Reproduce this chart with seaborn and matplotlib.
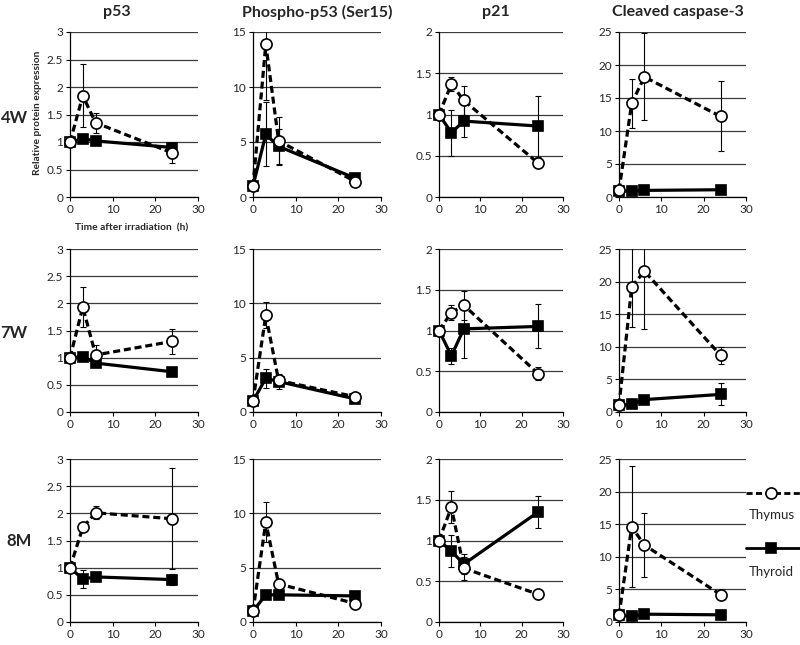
import pandas as pd
import matplotlib
matplotlib.use("Agg")
import matplotlib.pyplot as plt
from matplotlib.lines import Line2D
from matplotlib.ticker import FuncFormatter, MultipleLocator
import seaborn as sns

times = [0, 3, 6, 24]
ages = ["4W", "7W", "8M"]
proteins = ["p53", "Phospho-p53 (Ser15)", "p21", "Cleaved caspase-3"]
tissues = ["Thyroid", "Thymus"]

# each list: rows 4W, 7W, 8M ; values at 0, 3, 6, 24 h
p53_thymus = [[1.0, 1.84, 1.35, 0.80], [1.0, 1.93, 1.05, 1.30], [1.0, 1.74, 2.01, 1.90]]
p53_thymus_sd = [[0, 0.57, 0.18, 0.18], [0, 0.37, 0.19, 0.23], [0, 0.05, 0.12, 0.93]]
p53_thyroid = [[1.0, 1.06, 1.02, 0.90], [1.0, 1.02, 0.90, 0.74], [1.0, 0.79, 0.83, 0.78]]
p53_thyroid_sd = [[0, 0.04, 0.04, 0.06], [0, 0.03, 0.04, 0.03], [0, 0.17, 0.05, 0.10]]

pp53_thymus = [[1.0, 13.9, 5.1, 1.4], [1.0, 8.9, 2.9, 1.4], [1.0, 9.2, 3.5, 1.7]]
pp53_thymus_sd = [[0, 5.1, 2.2, 0.2], [0, 1.2, 0.5, 0.2], [0, 1.8, 0.3, 0.2]]
pp53_thyroid = [[1.0, 5.7, 4.6, 1.7], [1.0, 3.1, 2.8, 1.2], [1.0, 2.5, 2.5, 2.4]]
pp53_thyroid_sd = [[0, 2.9, 1.6, 0.2], [0, 0.9, 0.7, 0.2], [0, 0.2, 0.3, 0.2]]

p21_thymus = [[1.0, 1.37, 1.17, 0.41], [1.0, 1.22, 1.31, 0.47], [1.0, 1.41, 0.66, 0.34]]
p21_thymus_sd = [[0, 0.09, 0.18, 0.02], [0, 0.09, 0.18, 0.08], [0, 0.20, 0.14, 0.02]]
p21_thyroid = [[1.0, 0.78, 0.92, 0.86], [1.0, 0.69, 1.02, 1.05], [1.0, 0.87, 0.71, 1.35]]
p21_thyroid_sd = [[0, 0.28, 0.19, 0.37], [0, 0.10, 0.36, 0.27], [0, 0.20, 0.12, 0.20]]

casp_thymus = [[1.0, 14.2, 18.2, 12.2], [1.0, 19.2, 21.6, 8.7], [1.0, 14.6, 11.8, 4.2]]
casp_thymus_sd = [[0, 3.7, 6.6, 5.3], [0, 6.1, 8.9, 1.3], [0, 9.3, 4.9, 0.2]]
casp_thyroid = [[0.9, 0.9, 1.0, 1.1], [1.0, 1.2, 1.9, 2.7], [1.0, 0.9, 1.2, 1.1]]
casp_thyroid_sd = [[0, 0.1, 0.1, 0.1], [0, 0.2, 0.3, 1.7], [0, 0.1, 0.1, 0.1]]

ymax = [3, 15, 2, 25]
ystep = [0.5, 5, 0.5, 5]

means = {"Thymus": [p53_thymus, pp53_thymus, p21_thymus, casp_thymus],
         "Thyroid": [p53_thyroid, pp53_thyroid, p21_thyroid, casp_thyroid]}
sds = {"Thymus": [p53_thymus_sd, pp53_thymus_sd, p21_thymus_sd, casp_thymus_sd],
       "Thyroid": [p53_thyroid_sd, pp53_thyroid_sd, p21_thyroid_sd, casp_thyroid_sd]}

rows = []
for tissue in tissues:
    for c, prot in enumerate(proteins):
        for r, age in enumerate(ages):
            for t, m, s in zip(times, means[tissue][c][r], sds[tissue][c][r]):
                rows.append(dict(tissue=tissue, protein=prot, age=age, time=t, value=m, sd=s))
df = pd.DataFrame(rows)

sns.set_style("white")
plt.rcParams["font.family"] = ["Lato", "DejaVu Sans"]

W, H = 800, 645
fig = plt.figure(figsize=(8, 6.45), dpi=100)

col_left = [70, 253, 439, 619]
col_w = [128, 128, 124, 127]
row_top = [32, 249, 459]
row_h = [165, 163, 163]

styles = {
    "Thymus": dict(linestyle=(0, (2.2, 1.2)), marker="o", markersize=8,
                   markerfacecolor="white", zorder=5),
    "Thyroid": dict(linestyle="-", marker="s", markersize=7,
                    markerfacecolor="black", zorder=3),
}

for r, age in enumerate(ages):
    for c, prot in enumerate(proteins):
        ax = fig.add_axes([col_left[c] / W, 1 - (row_top[r] + row_h[r]) / H,
                           col_w[c] / W, row_h[r] / H])
        for tissue in tissues:
            sub = df[(df.tissue == tissue) & (df.protein == prot) & (df.age == age)]
            z = styles[tissue]["zorder"]
            ax.errorbar(sub.time, sub.value, yerr=sub.sd, fmt="none", ecolor="black",
                        elinewidth=0.8, capsize=2.5, capthick=0.8, zorder=z - 1)
            sns.lineplot(data=sub, x="time", y="value", ax=ax, color="black",
                         linewidth=2.3, markeredgecolor="black", markeredgewidth=1.2,
                         errorbar=None, clip_on=False, **styles[tissue])
        ax.set_xlim(0, 30)
        ax.set_ylim(0, ymax[c])
        ax.xaxis.set_major_locator(MultipleLocator(10))
        ax.yaxis.set_major_locator(MultipleLocator(ystep[c]))
        ax.yaxis.set_major_formatter(FuncFormatter(lambda v, p: f"{v:g}"))
        ax.grid(axis="y", color="#3c3c3c", linewidth=0.9)
        ax.set_axisbelow(True)
        for s in ["top", "right"]:
            ax.spines[s].set_visible(False)
        for s in ["left", "bottom"]:
            ax.spines[s].set_color("black")
            ax.spines[s].set_linewidth(0.9)
        ax.tick_params(direction="out", length=3, width=0.8, color="black",
                       labelsize=8.5, pad=2, left=True, bottom=True)
        ax.set_xlabel("")
        ax.set_ylabel("")

# column titles and row labels
title_x = [117, 317, 496, 678]
for prot, x in zip(proteins, title_x):
    fig.text(x / W, 1 - 12 / H, prot, ha="center", va="center",
             fontsize=11.5, fontweight="bold")
for age, (x, y) in zip(ages, [(15, 118), (14, 333), (19, 541)]):
    fig.text(x / W, 1 - y / H, age, ha="center", va="center",
             fontsize=12, fontweight="bold")

fig.text(38 / W, 1 - 113 / H, "Relative protein expression", rotation=90,
         ha="center", va="center", fontsize=7.3, fontweight="bold")
fig.text(132 / W, 1 - 228 / H, "Time after irradiation  (h)",
         ha="center", va="center", fontsize=7.3, fontweight="bold")

# legend, sample line above its label
for tissue, ys, yl in [("Thymus", 493, 515), ("Thyroid", 548, 572)]:
    st = styles[tissue]
    fig.add_artist(Line2D([746 / W, 771 / W, 800 / W], [1 - ys / H] * 3,
                          transform=fig.transFigure, color="black", linewidth=2.0,
                          linestyle=st["linestyle"], marker=st["marker"],
                          markersize=st["markersize"], markerfacecolor=st["markerfacecolor"],
                          markeredgecolor="black", markeredgewidth=1.2, markevery=[1]))
    fig.text(749 / W, 1 - yl / H, tissue, ha="left", va="center", fontsize=9.5)

fig.savefig("out.png", dpi=100)
